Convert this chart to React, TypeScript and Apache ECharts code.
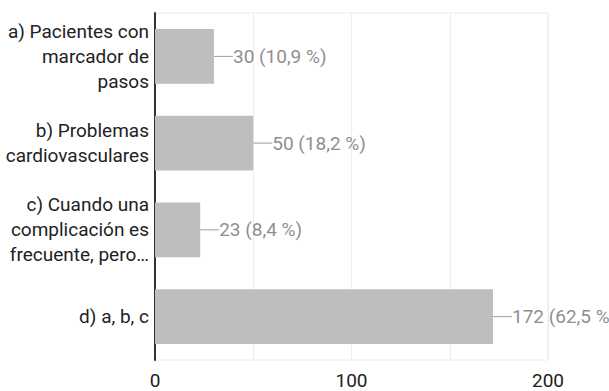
import React, { useEffect, useRef } from "react";
import * as echarts from "echarts";

const categories = [
  "a) Pacientes con\nmarcador de\npasos",
  "b) Problemas\ncardiovasculares",
  "c) Cuando una\ncomplicación es\nfrecuente, pero…",
  "d) a, b, c",
];
const counts = [30, 50, 23, 172];
const percents = ["10,9", "18,2", "8,4", "62,5"];

export default function App() {
  const ref = useRef<HTMLDivElement>(null);

  useEffect(() => {
    if (!ref.current) return;
    const chart = echarts.init(ref.current, undefined, { renderer: "svg" });
    chart.setOption({
      animation: false,
      textStyle: { fontFamily: "Roboto" },
      grid: {
        left: 155,
        right: 61,
        top: 13,
        bottom: 31,
        show: true,
        borderColor: "#ececec",
        borderWidth: 1,
      },
      xAxis: {
        type: "value",
        min: 0,
        max: 200,
        interval: 50,
        axisLine: { show: false },
        axisTick: { show: false },
        splitLine: { lineStyle: { color: "#ececec", width: 1 } },
        axisLabel: {
          color: "#222",
          fontSize: 19,
          lineHeight: 19,
          margin: 11,
          formatter: (v: number) => (v % 100 === 0 ? String(v) : ""),
        },
      },
      yAxis: {
        type: "category",
        inverse: true,
        data: categories,
        axisLine: { show: true, lineStyle: { color: "#333", width: 2 } },
        axisTick: { show: false },
        axisLabel: {
          color: "#222",
          fontSize: 19,
          lineHeight: 25,
          margin: 6,
          align: "right",
        },
      },
      series: [
        {
          type: "bar",
          data: counts,
          barWidth: "63%",
          itemStyle: { color: "#bebebe" },
          label: {
            show: true,
            position: "right",
            distance: 0,
            formatter: (p: any) => `{l|}{t|${p.value} (${percents[p.dataIndex]} %)}`,
            rich: {
              l: { width: 19, height: 1, backgroundColor: "#9e9e9e" },
              t: { color: "#8f8f8f", fontSize: 19, fontFamily: "Roboto" },
            },
          },
        },
      ],
    });
    return () => chart.dispose();
  }, []);

  return <div ref={ref} style={{ width: 609, height: 391, position: "absolute", left: 0, top: 0 }} />;
}
